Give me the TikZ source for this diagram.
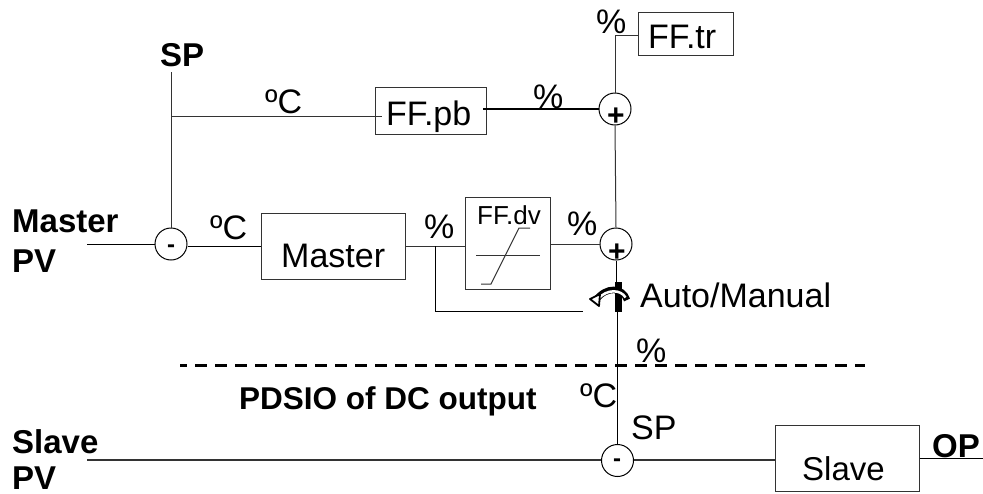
\documentclass[tikz,border=0pt]{standalone}
\usepackage{fontspec}
\setmainfont{Liberation Sans}
\usetikzlibrary{arrows.meta}
\tikzset{
  x=1pt,y=-1pt,
  wire/.style={draw=black!80,line width=1pt},
  thickwire/.style={draw=black,line width=2pt},
  blockbox/.style={draw=black!80,line width=1pt,inner sep=0pt,fill=white},
  sumcircle/.style={draw=black,line width=1pt,circle,minimum size=32pt,inner sep=0pt},
  lab/.style={inner sep=0pt,anchor=base west,font=\fontsize{34}{38}\selectfont},
  blab/.style={inner sep=0pt,anchor=base west,font=\fontsize{33}{38}\selectfont\bfseries},
}
\begin{document}
\begin{tikzpicture}
\useasboundingbox (0,0) rectangle (983,493);
\node[blockbox,minimum width=95pt,minimum height=43pt] (fftr) at (685.5,33.5) {};
\node[blockbox,minimum width=111pt,minimum height=47pt] (ffpb) at (430.5,111) {};
\node[blockbox,minimum width=144pt,minimum height=66pt] (master) at (333,246) {};
\node[blockbox,minimum width=85pt,minimum height=92pt] (ffdv) at (507.5,243) {};
\node[blockbox,minimum width=144pt,minimum height=66pt] (slave) at (847,458) {};
\node[sumcircle] (s1) at (615,109) {};
\node[sumcircle] (s2) at (616,244) {};
\node[sumcircle] (s3) at (171,244) {};
\node[sumcircle] (s4) at (617.5,460.5) {};
\coordinate (spTop) at (171,72);
\coordinate (spJ) at (171,116);
\coordinate (pbIn) at (382,116);
\coordinate (pbOut) at (483,109);
\coordinate (mpv) at (87,244);
\coordinate (spv) at (87,460);
\coordinate (op) at (983,458);
\coordinate (trC) at (615,35);
\coordinate (br) at (435,246);
\coordinate (brD) at (435,311);
\coordinate (brE) at (583,311);
\coordinate (swT) at (617.5,282);
\coordinate (swB) at (617.5,312);
\coordinate (dashL) at (180,365.5);
\coordinate (dashR) at (865,365.5);
\draw[wire] (spTop) -- (s3.north);
\draw[wire] (spJ) -- (pbIn);
\draw[thickwire] (pbOut) -- (s1.west);
\draw[wire] (fftr.west |- trC) -- (trC) -- (s1.north);
\draw[wire] (s1.south) -- (s2.north);
\draw[wire,draw=black] (mpv) -- (s3.west);
\draw[wire,draw=black] (s3.east |- master.west) -- (master.west);
\draw[wire] (master.east) -- (ffdv.west |- master.east);
\draw[wire] (ffdv.east |- s2) -- (s2.west);
\draw[wire,draw=black] (br) -- (brD) -- (brE);
\draw[wire,draw=black] (s2.south) -- (s2.south |- swT);
\draw[wire,draw=black] (swB) -- (s4.north);
\draw[wire,line width=1.3pt] (spv) -- (s4.west |- spv);
\draw[wire,line width=1.3pt] (s4.east |- spv) -- (slave.west |- spv);
\draw[wire,draw=black] (slave.east |- op) -- (op);
\draw[draw=black,line width=2.5pt,dash pattern=on 11.5pt off 8.5pt,dash phase=5pt] (dashL) -- (dashR);
\coordinate (dv1) at (481,284);
\coordinate (dv2) at (491,284);
\coordinate (dv3) at (519,228);
\coordinate (dv4) at (530,228);
\coordinate (dvh1) at (476,255);
\coordinate (dvh2) at (540,255);
\draw[wire] (dv1) -- (dv2) -- (dv3) -- (dv4);
\draw[wire] (dvh1) -- (dvh2);
\draw[line width=7pt,draw=black] (618.5,282) -- (618.5,312);
% hollow curved arrow of the switch
\draw[draw=black,line width=6.5pt] (627,300) .. controls (623,287) and (606,286) .. (596,300);
\draw[draw=white,line width=2.5pt] (625.5,297.5) .. controls (621,289.5) and (607,288.5) .. (598,299);
\draw[draw=black,line width=1.8pt,fill=white,line join=round] (590,299) -- (600,294) -- (599,306) -- cycle;
\node[lab] (tFFtr) at (648,48) {FF.tr};
\node[lab] (tFFpb) at (386,125) {FF.pb};
\node[lab] (tMaster) at (281,267) {Master};
\node[lab,font=\fontsize{26}{30}\selectfont] (tFFdv) at (477,224) {FF.dv};
\node[lab,font=\fontsize{33}{38}\selectfont] (tSlave) at (802,480) {Slave};
\node[lab] (p1) at (596,33) {\%};
\node[lab] (p2) at (533,108) {\%};
\node[lab] (p3) at (424,238) {\%};
\node[lab] (p4) at (567,235) {\%};
\node[lab] (p5) at (636,362) {\%};
\node[lab] (c1) at (265,113) {ºC};
\node[lab] (c2) at (210,239) {ºC};
\node[lab] (c3) at (580,407) {ºC};
\node[lab] (tSP) at (631,439) {SP};
\node[lab] (tAM) at (640,307) {Auto/Manual};
\node[blab] (tSPb) at (160,66) {SP};
\node[blab] (tMaster2) at (12,232) {Master};
\node[blab] (tPV1) at (12,272) {PV};
\node[blab] (tSlave2) at (12,453) {Slave};
\node[blab] (tPV2) at (12,489.5) {PV};
\node[blab] (tOP) at (932,457) {OP};
\node[blab,font=\fontsize{31.5}{36}\selectfont\bfseries] (tPD) at (239,409) {PDSIO of DC output};
\node[inner sep=0pt,font=\fontsize{30}{34}\selectfont\bfseries] (m1) at (616,117) {+};
\node[inner sep=0pt,font=\fontsize{30}{34}\selectfont\bfseries] (m2) at (617,253) {+};
\node[inner sep=0pt,font=\fontsize{24}{28}\selectfont\bfseries] (m3) at (171,249) {-};
\node[inner sep=0pt,font=\fontsize{24}{28}\selectfont\bfseries] (m4) at (617,463) {-};
\end{tikzpicture}
\end{document}
